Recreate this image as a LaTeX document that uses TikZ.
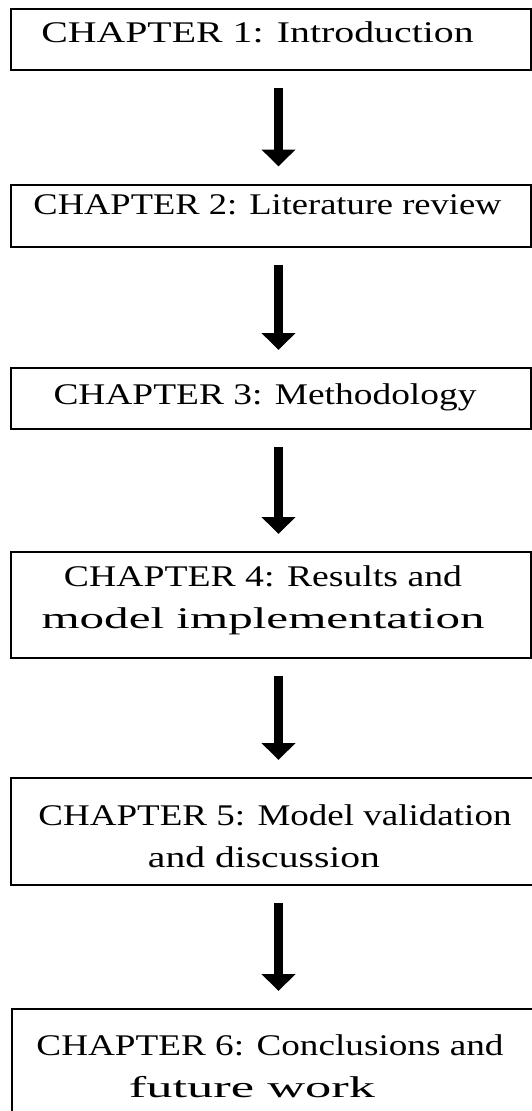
\documentclass[tikz,border=0pt]{standalone}
\usepackage{fontspec}
\setmainfont{Liberation Serif}
\usepackage{graphicx}
\usetikzlibrary{arrows.meta}
\newcommand{\wx}[2]{\scalebox{#1}[1]{#2}}
\tikzset{
  chapbox/.style={draw=black, line width=2pt, rectangle, inner sep=0pt},
  chaptext/.style={font=\fontsize{30}{42}\selectfont, align=center, inner sep=0pt, anchor=base},
  bigarrow/.style={line width=9pt, -{Triangle[width=33pt,length=17pt]}, shorten <=17pt, shorten >=17pt}
}
\begin{document}
\begin{tikzpicture}[x=1pt,y=1pt]
\useasboundingbox (0,0) rectangle (532,-1111);
\clip (0,0) rectangle (532,-1111);
\fill[white] (0,0) rectangle (532,-1111);
% boxes
\node[chapbox, minimum width=520pt, minimum height=61pt] (b1) at (271,-39.5) {};
\node[chapbox, minimum width=520pt, minimum height=62pt] (b2) at (271,-215.5) {};
\node[chapbox, minimum width=520pt, minimum height=61pt] (b3) at (271,-398.5) {};
\node[chapbox, minimum width=520pt, minimum height=106pt] (b4) at (271,-605) {};
\node[chapbox, minimum width=540pt, minimum height=107pt] (b5) at (281,-831.5) {};
\node[chapbox, minimum width=540pt, minimum height=130pt] (b6) at (282,-1074) {};
% texts
\node[chaptext] (t1) at (257.5,-42) {\wx{1.327}{CHAPTER 1: Introduction}};
\node[chaptext] (t2) at (267.5,-214) {\wx{1.216}{CHAPTER 2: Literature review}};
\node[chaptext] (t3) at (265,-404) {\wx{1.247}{CHAPTER 3: Methodology}};
\node[chaptext] (t4) at (263,-628) {\wx{1.257}{CHAPTER 4: Results and}\\\wx{1.636}{model implementation}};
\node[chaptext] (t5) at (269.5,-867) {\hspace*{11pt}\wx{1.234}{CHAPTER 5: Model validation}\\\wx{1.32}{and discussion}\hspace*{11pt}};
\node[chaptext] (t6) at (261,-1097) {\hspace*{18pt}\wx{1.24}{CHAPTER 6: Conclusions and}\\\wx{1.75}{future work}\hspace*{18pt}};
% arrows
\draw[bigarrow] (b1.south -| 278.5,0) -- (b2.north -| 278.5,0);
\draw[bigarrow] (b2.south -| 278.5,0) -- (b3.north -| 278.5,0);
\draw[bigarrow] (b3.south -| 278.5,0) -- (b4.north -| 278.5,0);
\draw[bigarrow] (b4.south -| 278.5,0) -- (b5.north -| 278.5,0);
\draw[bigarrow] (b5.south -| 278.5,0) -- (b6.north -| 278.5,0);
\end{tikzpicture}
\end{document}
